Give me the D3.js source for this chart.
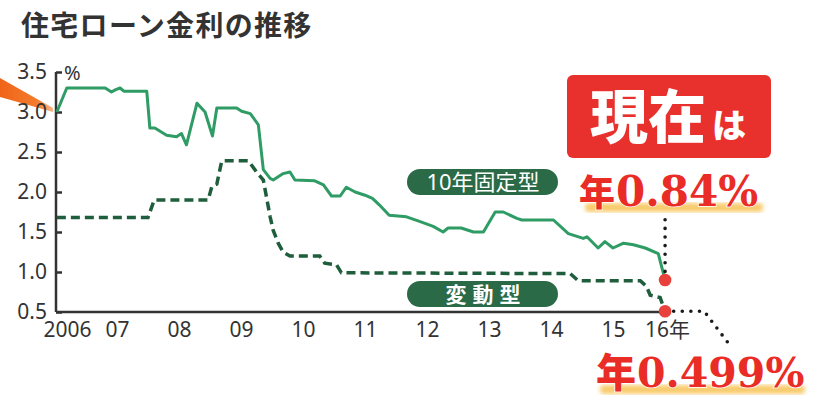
<!DOCTYPE html>
<html>
<head>
<meta charset="utf-8">
<script src="https://cdn.jsdelivr.net/npm/d3@7"></script>
<style>
  body { margin: 0; background: #fff; }
  svg { display: block; }
  .axis path, .axis line { stroke: #333; }
  .axis text { font-family: "Noto Sans", sans-serif; font-size: 21px; fill: #333; }
</style>
</head>
<body>
<div id="chart"></div>
<script>
// 10年固定型 (decimal year, %)
const fixedYears = [2006.03, 2006.19, 2006.81, 2006.91, 2006.98, 2007.05, 2007.11, 2007.48, 2007.53, 2007.61,
  2007.80, 2007.96, 2008.04, 2008.12, 2008.29, 2008.42, 2008.54, 2008.61, 2008.93, 2009.01,
  2009.15, 2009.28, 2009.36, 2009.47, 2009.52, 2009.68, 2009.79, 2009.87, 2010.19, 2010.33,
  2010.46, 2010.60, 2010.70, 2010.84, 2011.00, 2011.12, 2011.23, 2011.39, 2011.67, 2011.89,
  2012.10, 2012.26, 2012.34, 2012.55, 2012.75, 2012.91, 2013.10, 2013.23, 2013.45, 2013.53,
  2014.04, 2014.28, 2014.52, 2014.58, 2014.76, 2014.87, 2015.00, 2015.17, 2015.33, 2015.52,
  2015.73, 2015.84];
const fixedRates = [3.00, 3.30, 3.30, 3.25, 3.28, 3.30, 3.26, 3.26, 2.80, 2.80,
  2.71, 2.69, 2.73, 2.59, 3.11, 3.00, 2.70, 3.05, 3.05, 3.01,
  2.98, 2.84, 2.28, 2.17, 2.15, 2.23, 2.25, 2.15, 2.14, 2.09,
  1.95, 1.95, 2.06, 2.00, 1.96, 1.92, 1.84, 1.71, 1.69, 1.63,
  1.57, 1.50, 1.55, 1.55, 1.50, 1.50, 1.75, 1.75, 1.67, 1.65,
  1.65, 1.48, 1.42, 1.44, 1.30, 1.38, 1.30, 1.36, 1.34, 1.30,
  1.23, 0.90];

// 変動型
const variableYears = [2006.03, 2007.50, 2007.60, 2008.47, 2008.53, 2008.61, 2008.69, 2009.12, 2009.25, 2009.36,
  2009.41, 2009.47, 2009.52, 2009.60, 2009.68, 2009.79, 2010.27, 2010.35, 2010.54, 2010.62,
  2014.31, 2014.44, 2015.44, 2015.54, 2015.60, 2015.76, 2015.84];
const variableRates = [1.68, 1.68, 1.90, 1.90, 2.07, 2.10, 2.39, 2.39, 2.25, 2.15,
  1.94, 1.69, 1.52, 1.36, 1.25, 1.20, 1.20, 1.11, 1.09, 0.99,
  0.98, 0.89, 0.89, 0.82, 0.71, 0.68, 0.51];

const yTicks = [0.5, 1.0, 1.5, 2.0, 2.5, 3.0, 3.5];
const xTicks = [2006, 2007, 2008, 2009, 2010, 2011, 2012, 2013, 2014, 2015, 2016];

// dotted leader lines to the callouts
const leaderFixed = [[2015.84, 0.90], [2015.84, 1.72]];
const leaderVariable = [[2015.84, 0.51], [2016.47, 0.51], [2016.87, 0.10]];

const width = 827, height = 405;
const svg = d3.select('#chart').append('svg')
    .attr('width', width)
    .attr('height', height);

const x = d3.scaleLinear().domain([2006, 2016]).range([55, 675]);
const y = d3.scaleLinear().domain([0.5, 3.5]).range([312, 72]);

const defs = svg.append('defs');
const grad = defs.append('linearGradient').attr('id', 'wedge')
    .attr('x1', 0).attr('x2', 1).attr('y1', 0).attr('y2', 0);
grad.append('stop').attr('offset', '0%').attr('stop-color', '#f06418');
grad.append('stop').attr('offset', '70%').attr('stop-color', '#f47c2c');
grad.append('stop').attr('offset', '100%').attr('stop-color', '#f9b48a');
defs.append('filter').attr('id', 'blur')
    .append('feGaussianBlur').attr('stdDeviation', 2.2);

// orange pointer on the left edge
svg.append('path')
    .attr('d', 'M0,78 L53,108 L53,112 L0,97 Z')
    .style('fill', 'url(#wedge)');

// title
svg.append('text')
    .attr('x', 21)
    .attr('y', 36)
    .style('font-family', '"Noto Sans CJK JP", sans-serif')
    .style('font-weight', 700)
    .style('font-size', '28px')
    .style('letter-spacing', '1.3px')
    .style('fill', '#333')
    .text('住宅ローン金利の推移');

// axes
let yAxis = svg.append('g')
    .classed('axis', true)
    .attr('transform', 'translate(56,0)')
    .call(d3.axisLeft(y).tickValues(yTicks).tickFormat(d3.format('.1f'))
        .tickSizeInner(-6).tickSizeOuter(0).tickPadding(9));
yAxis.selectAll('path, line').style('stroke-width', 2.5);
yAxis.select('.domain').attr('d', `M0,${y(3.5)}V${y(0.5)}`);

svg.append('text')
    .attr('x', 64)
    .attr('y', 80)
    .style('font-family', '"Noto Sans", sans-serif')
    .style('font-size', '20px')
    .style('fill', '#333')
    .text('%');

let xAxis = svg.append('g')
    .classed('axis', true)
    .attr('transform', `translate(0,${y(0.5)})`)
    .call(d3.axisBottom(x).tickValues(xTicks)
        .tickFormat(d => d === 2006 ? '2006' : d === 2016 ? '16年' : String(d).slice(2))
        .tickSize(0).tickPadding(10));
xAxis.select('.domain')
    .attr('d', `M${x(2006.02)},0H${x(2015.84)}`)
    .style('stroke-width', 2.5);
xAxis.selectAll('.tick text')
    .attr('dx', d => d === 2006 ? 12 : d === 2016 ? -8 : 0);
xAxis.selectAll('.tick text').filter(d => d === 2016)
    .style('font-family', '"Noto Sans", "Noto Sans CJK JP", sans-serif');

// lines
const fixedData = fixedYears.map((t, i) => ({ t: t, v: fixedRates[i] }));
const variableData = variableYears.map((t, i) => ({ t: t, v: variableRates[i] }));
const line = d3.line().x(d => x(d.t)).y(d => y(d.v));

svg.append('path')
    .datum(variableData)
    .attr('d', line)
    .style('fill', 'none')
    .style('stroke', '#1f5e3c')
    .style('stroke-width', 3.5)
    .style('stroke-dasharray', '9,5');

svg.append('path')
    .datum(fixedData)
    .attr('d', line)
    .style('fill', 'none')
    .style('stroke', '#2f9c65')
    .style('stroke-width', 3)
    .style('stroke-linejoin', 'round');

// dotted leaders
const leader = d3.line().x(d => x(d[0])).y(d => y(d[1]));
[leaderFixed, leaderVariable].forEach(pts => {
    svg.append('path')
        .attr('d', leader(pts))
        .style('fill', 'none')
        .style('stroke', '#1a1a1a')
        .style('stroke-width', 3.6)
        .style('stroke-linecap', 'round')
        .style('stroke-dasharray', '0,8.6');
});

// end points
svg.selectAll('.end-dot')
    .data([fixedData[fixedData.length - 1], variableData[variableData.length - 1]])
    .enter().append('circle')
    .classed('end-dot', true)
    .attr('cx', d => x(d.t))
    .attr('cy', d => y(d.v))
    .attr('r', 6.3)
    .style('fill', '#e8403a');

// series labels
const pills = [
    { label: '10年固定型', x: 407, y: 169, size: 22, weight: 400, spacing: 0 },
    { label: '変動型', x: 407, y: 281, size: 21, weight: 700, spacing: 6 }
];
pills.forEach(p => {
    svg.append('rect')
        .attr('x', p.x).attr('y', p.y)
        .attr('width', 151).attr('height', 26)
        .attr('rx', 13)
        .style('fill', '#2b6a47');
    svg.append('text')
        .attr('x', p.x + 76 + p.spacing / 2)
        .attr('y', p.y + 21)
        .attr('text-anchor', 'middle')
        .style('font-family', '"Noto Sans", "Noto Sans CJK JP", sans-serif')
        .style('font-size', p.size + 'px')
        .style('font-weight', p.weight)
        .style('letter-spacing', p.spacing + 'px')
        .style('fill', '#fff')
        .text(p.label);
});

// callout: 現在は
svg.append('rect')
    .attr('x', 567).attr('y', 75)
    .attr('width', 204).attr('height', 83)
    .attr('rx', 6)
    .style('fill', '#e8302d');
let now = svg.append('text')
    .attr('x', 590)
    .attr('y', 138)
    .style('font-family', '"Noto Sans CJK JP", sans-serif')
    .style('font-weight', 900)
    .style('fill', '#fff');
now.append('tspan').style('font-size', '58px').text('現在');
now.append('tspan').attr('dx', 6).style('font-size', '34px').text('は');

// rate callouts with brush highlight
const callouts = [
    { yen: '年', rate: '0.84%', x: 579, y: 206, nen: 36, size: 42, hx: 585, hy: 203, hw: 178 },
    { yen: '年', rate: '0.499%', x: 596, y: 387, nen: 40, size: 41, hx: 600, hy: 385, hw: 205 }
];
callouts.forEach(c => {
    svg.append('rect')
        .attr('x', c.hx).attr('y', c.hy)
        .attr('width', c.hw).attr('height', 9)
        .attr('rx', 4)
        .style('fill', '#f6b93a')
        .style('opacity', 0.75)
        .attr('filter', 'url(#blur)');
    let t = svg.append('text')
        .attr('x', c.x)
        .attr('y', c.y)
        .style('fill', '#ea2c27')
        .style('stroke', '#fff')
        .style('stroke-width', 1.5)
        .style('paint-order', 'stroke');
    t.append('tspan')
        .style('font-family', '"Noto Sans CJK JP", sans-serif')
        .style('font-weight', 900)
        .style('font-size', c.nen + 'px')
        .text(c.yen);
    t.append('tspan')
        .attr('dx', 1)
        .style('font-family', '"DejaVu Serif", serif')
        .style('font-weight', 700)
        .style('font-size', c.size + 'px')
        .text(c.rate);
});
</script>
</body>
</html>
